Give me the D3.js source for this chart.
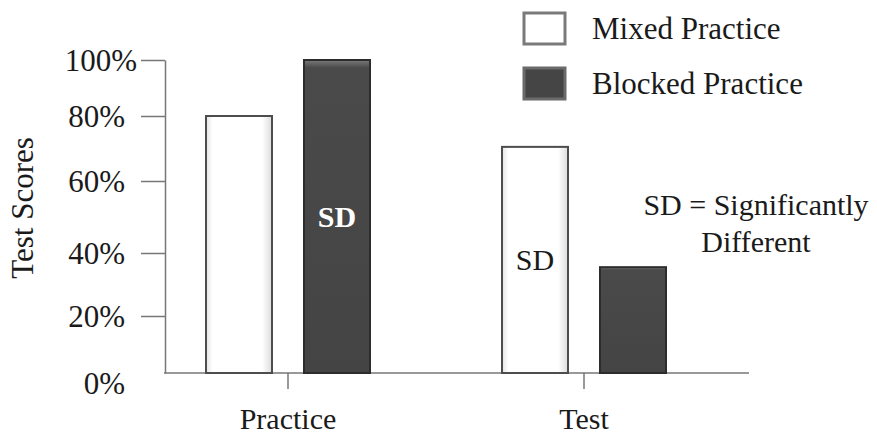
<!DOCTYPE html>
<html>
<head>
<meta charset="utf-8">
<script src="https://cdn.jsdelivr.net/npm/d3@7"></script>
<style>
  body { margin: 0; background: #fff; }
  text { font-family: "Liberation Serif", "Times New Roman", serif; fill: #1a1a1a; }
</style>
</head>
<body>
<svg id="chart" width="877" height="434"></svg>
<script>
// Data
var categories = ["Practice", "Test"];
var series = ["Mixed Practice", "Blocked Practice"];
var mixedValues = [80, 70.5];
var blockedValues = [100, 35.5];
var yTicks = [0, 20, 40, 60, 80, 100];
// which bar carries an "SD" mark: [categoryIndex, seriesIndex]
var sdMarks = [[0, 1], [1, 0]];

var svg = d3.select("#chart");
svg.append("rect").attr("width", 877).attr("height", 434).attr("fill", "#fff");

// The original axis is hand drawn, ticks are not evenly spaced
var y = d3.scaleLinear().domain(yTicks).range([373, 316, 253, 181, 116, 60]);
var x0 = d3.scaleBand().domain(categories).range([140, 732]).padding(0);
var x1 = d3.scaleBand().domain(series).range([-82, 82]).paddingInner(0.3265).paddingOuter(0);

var colors = {"Mixed Practice": "#ffffff", "Blocked Practice": "#474747"};
var strokes = {"Mixed Practice": "#4d4d4d", "Blocked Practice": "#2c2c2c"};

var defs = svg.append("defs");
var gw = defs.append("linearGradient").attr("id", "gMixed").attr("x1", "0%").attr("x2", "100%");
gw.append("stop").attr("offset", "0%").attr("stop-color", "#e4e4e4");
gw.append("stop").attr("offset", "10%").attr("stop-color", "#ffffff");
gw.append("stop").attr("offset", "85%").attr("stop-color", "#ffffff");
gw.append("stop").attr("offset", "100%").attr("stop-color", "#dcdcdc");
var gb = defs.append("linearGradient").attr("id", "gBlocked").attr("x1", "0%").attr("x2", "0%").attr("y1", "0%").attr("y2", "100%");
gb.append("stop").attr("offset", "0%").attr("stop-color", "#7a7a7a");
gb.append("stop").attr("offset", "2.5%").attr("stop-color", "#4a4a4a");
gb.append("stop").attr("offset", "100%").attr("stop-color", "#444444");

// Y axis
var yAxis = svg.append("g").attr("transform", "translate(165,0)")
  .call(d3.axisLeft(y).tickValues(yTicks).tickSize(24).tickSizeOuter(0).tickFormat(d => d + "%"));
yAxis.select(".domain").attr("stroke", "#777").attr("stroke-width", 1.5);
yAxis.selectAll(".tick line").attr("stroke", "#777").attr("stroke-width", 1.5)
  .filter(d => d === 0).remove();
yAxis.selectAll(".tick text")
  .attr("x", d => d === 100 ? -28 : -40)
  .attr("dy", d => d === 0 ? "0.65em" : "0.35em")
  .style("font-size", "31px").style("font-family", "'Liberation Serif', serif").attr("fill", "#1a1a1a");

svg.append("text")
  .attr("transform", "translate(33,208) rotate(-90)")
  .attr("text-anchor", "middle")
  .style("font-size", "31px")
  .text("Test Scores");

// X baseline and category ticks
svg.append("line").attr("x1", 164).attr("x2", 749).attr("y1", y(0)).attr("y2", y(0))
  .attr("stroke", "#777").attr("stroke-width", 1.5);
categories.forEach(function(c) {
  var cx = x0(c) + x0.bandwidth() / 2;
  svg.append("line").attr("x1", cx).attr("x2", cx).attr("y1", y(0)).attr("y2", y(0) + 16)
    .attr("stroke", "#777").attr("stroke-width", 1.5);
  svg.append("text").attr("x", cx).attr("y", 429).attr("text-anchor", "middle")
    .style("font-size", "30px").text(c);
});

// Bars
var rows = [];
categories.forEach(function(c, i) {
  rows.push({cat: c, s: series[0], v: mixedValues[i], ci: i, si: 0});
  rows.push({cat: c, s: series[1], v: blockedValues[i], ci: i, si: 1});
});

svg.append("g").selectAll("rect").data(rows).enter().append("rect")
  .attr("x", d => x0(d.cat) + x0.bandwidth() / 2 + x1(d.s))
  .attr("y", d => y(d.v))
  .attr("width", x1.bandwidth())
  .attr("height", d => y(0) - y(d.v))
  .attr("fill", d => d.si === 0 ? "url(#gMixed)" : "url(#gBlocked)")
  .attr("stroke", d => strokes[d.s])
  .attr("stroke-width", 2);

// SD marks inside bars
sdMarks.forEach(function(m) {
  var d = rows.find(r => r.ci === m[0] && r.si === m[1]);
  svg.append("text")
    .attr("x", x0(d.cat) + x0.bandwidth() / 2 + x1(d.s) + x1.bandwidth() / 2)
    .attr("y", (y(d.v) + y(0)) / 2)
    .attr("dy", "0.35em")
    .attr("text-anchor", "middle")
    .style("font-size", "30px")
    .style("font-weight", d.si === 1 ? "bold" : "normal")
    .attr("fill", d.si === 1 ? "#ffffff" : "#1a1a1a")
    .style("fill", d.si === 1 ? "#ffffff" : "#1a1a1a")
    .text("SD");
});

// Legend
var legend = svg.append("g");
series.forEach(function(s, i) {
  var g = legend.append("g").attr("transform", "translate(0," + (i * 55) + ")");
  g.append("rect").attr("x", 524).attr("y", 13).attr("width", 41).attr("height", 31)
    .attr("fill", i === 0 ? "#fff" : "#454545")
    .attr("stroke", i === 0 ? "#7a7a7a" : "#6a6a6a").attr("stroke-width", 3);
  g.append("text").attr("x", 592).attr("y", 39).style("font-size", "31px").text(s);
});

// Note
var note = svg.append("text").attr("x", 756).attr("y", 215).attr("text-anchor", "middle").style("font-size", "30px");
note.append("tspan").attr("x", 756).text("SD = Significantly");
note.append("tspan").attr("x", 756).attr("dy", 37).text("Different");
</script>
</body>
</html>
